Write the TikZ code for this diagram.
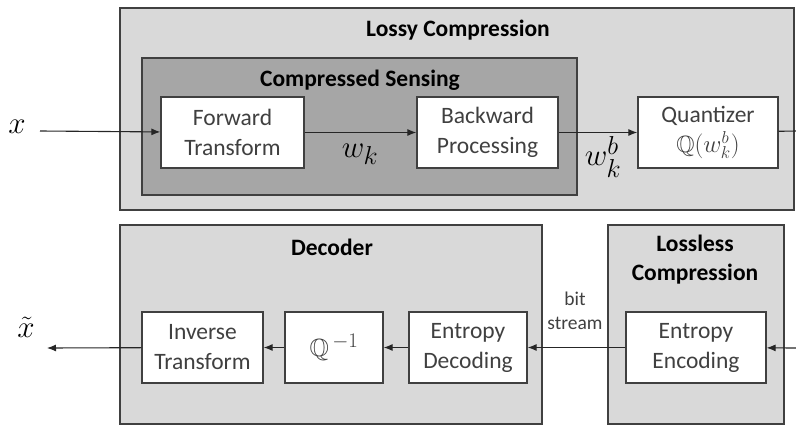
\documentclass[tikz,border=0pt]{standalone}
\usepackage{amsmath}
\usepackage{amssymb}
\usepackage{fontspec}
\setmainfont{Carlito}
\usetikzlibrary{arrows.meta, positioning}
\definecolor{lightbg}{HTML}{D9D9D9}
\definecolor{darkbg}{HTML}{A6A6A6}
\definecolor{edge}{HTML}{404040}
\tikzset{
    blk/.style={draw=edge, line width=1.2pt, fill=white, inner sep=0pt,
        minimum height=71pt, align=center, text=edge,
        font=\fontsize{23.5}{30}\selectfont},
    ttl/.style={font=\fontsize{23.5}{29}\selectfont\bfseries, align=center},
    lbl/.style={font=\fontsize{24.88}{30}\selectfont, scale=1.25},
    flow/.style={line width=1.1pt, draw=black!85, -{Latex[length=9pt,width=7pt]}},
}

\begin{document}
\begin{tikzpicture}[x=1pt,y=-1pt]
        \useasboundingbox (0,0) rectangle (796,425);

        % Draw the boxes
        \draw[edge, line width=1.2pt, fill=lightbg] (120,8) rectangle (794,210);
        \draw[edge, line width=1.2pt, fill=darkbg] (142,58) rectangle (577,195);
        \draw[edge, line width=1.2pt, fill=lightbg] (120,225) rectangle (542,424);
        \draw[edge, line width=1.2pt, fill=lightbg] (608,225) rectangle (784,424);

        % Add titles of the boxes
        \node[ttl] (tlossy) at (458,30) {Lossy Compression};
        \node[ttl] (tcs) at (360,80) {Compressed Sensing};
        \node[ttl] (tdec) at (332,247) {Decoder};
        \node[ttl] (tlossless) at (695,260) {Lossless\\Compression};

        % Add the blocks
        \node[blk, minimum width=143pt] (fwd) at (232.5,132.5) {Forward\\Transform};
        \node[blk, minimum width=141pt] (bwd) at (487.5,132.5) {Backward\\Processing};
        \node[blk, minimum width=140pt] (quant) at (708,132.5) {Quantizer\\$\mathbb{Q}(w_k^b)$};
        \node[blk, minimum width=121pt] (inv) at (202.5,347.5) {Inverse\\Transform};
        \node[blk, minimum width=98pt, font=\fontsize{24.88}{30}\selectfont] (qinv) at (334,347.5) {$\mathbb{Q}^{\,-1}$};
        \node[blk, minimum width=118pt] (edec) at (468,347.5) {Entropy\\Decoding};
        \node[blk, minimum width=140pt] (eenc) at (696,347.5) {Entropy\\Encoding};

        % Add signal labels
        \node[lbl] (x) at (17,127) {$x$};
        \node[lbl] (wk) at (360,154) {$w_k$};
        \node[lbl] (wkb) at (603,157) {$w_k^b$};
        \node[lbl] (xt) at (26,327) {$\tilde{x}$};
        \node[font=\fontsize{19.5}{24}\selectfont, text=edge, align=center] (bits) at (575,311) {bit\\stream};

        % Free ends of the arrows
        \coordinate (xin) at (40,131);
        \coordinate (xout) at (47,348);
        \coordinate (qout) at (796,131);
        \coordinate (encin) at (796,348);

        % Draw the arrows
        \draw[flow] (xin) -- (fwd);
        \draw[flow] (fwd) -- (bwd);
        \draw[flow] (bwd) -- (quant);
        \draw[line width=1.1pt, draw=black!85] (quant) -- (qout);
        \draw[flow] (encin) -- (eenc);
        \draw[flow] (eenc) -- (edec);
        \draw[flow] (edec) -- (qinv);
        \draw[flow] (qinv) -- (inv);
        \draw[flow] (inv) -- (xout);
    \end{tikzpicture}
\end{document}
